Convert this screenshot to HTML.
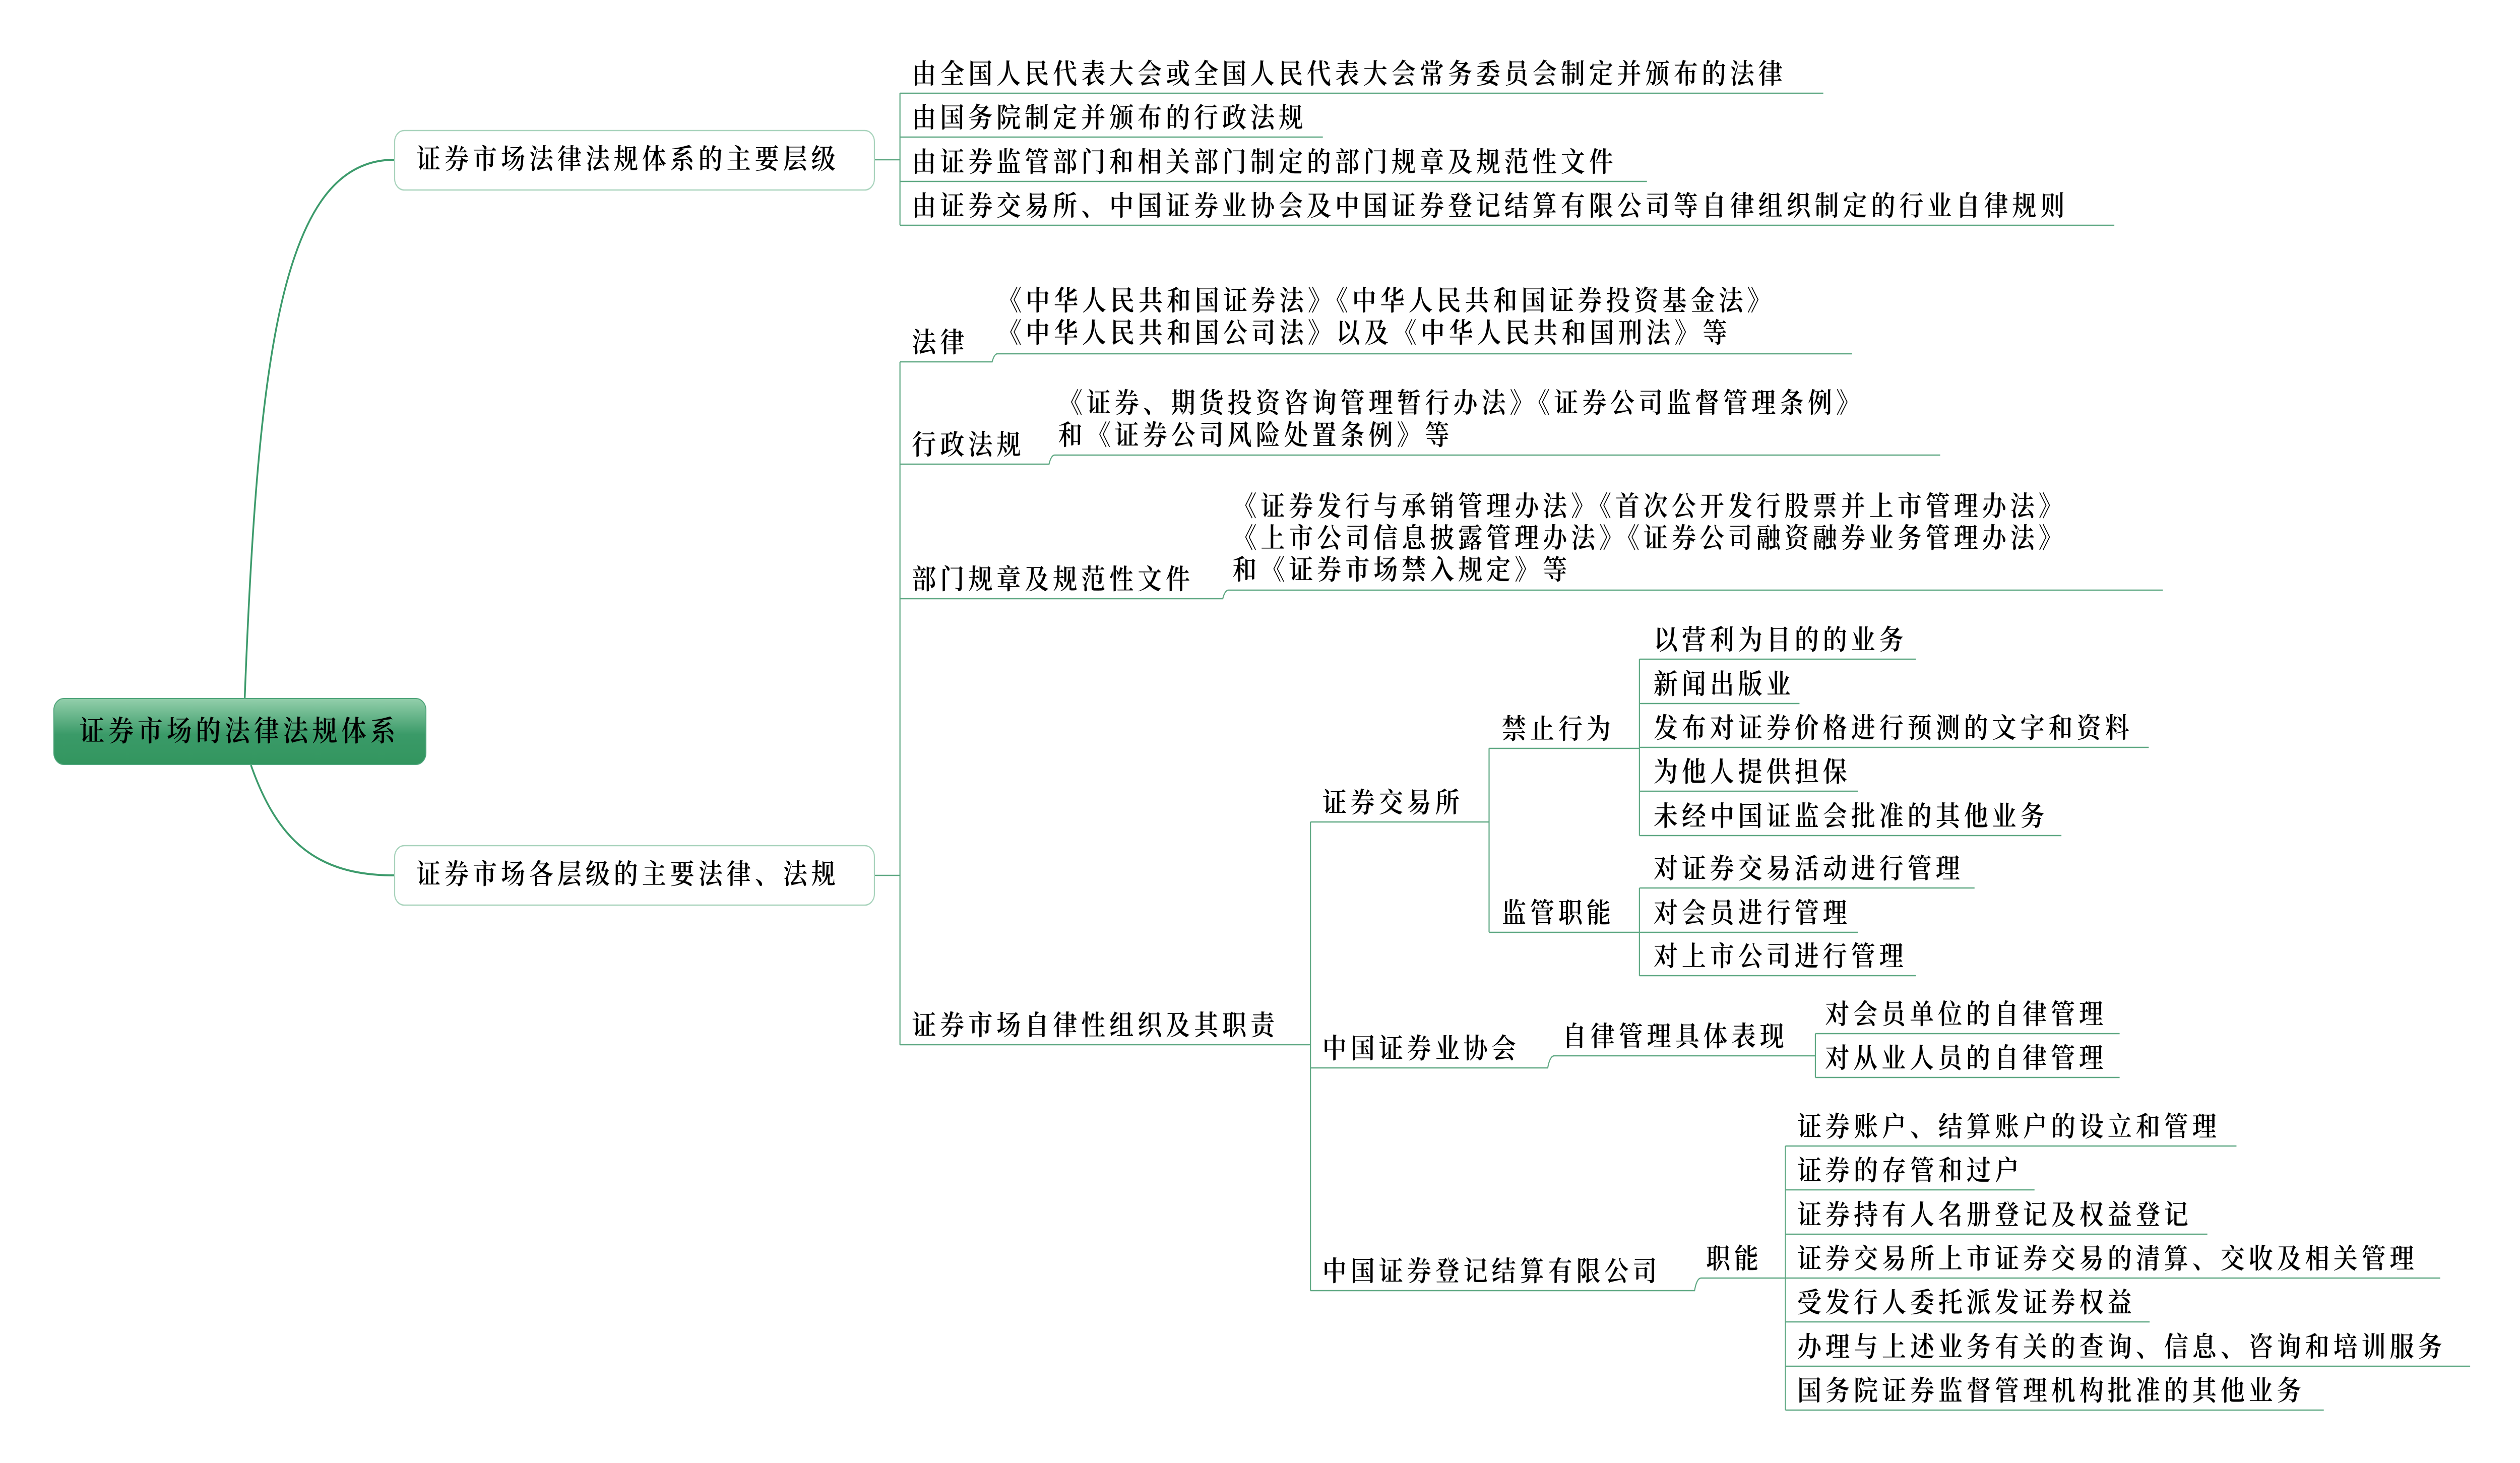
<!DOCTYPE html>
<html><head><meta charset="utf-8">
<style>
html,body{margin:0;padding:0;background:#fff;overflow:hidden;}
svg{display:block;width:100vw;height:100vh;}
text{font-family:"Liberation Serif","Noto Serif CJK SC",serif;font-size:55px;letter-spacing:9px;font-weight:600;fill:#000;dominant-baseline:central;}
</style></head><body>
<svg viewBox="0 0 5715 2903" preserveAspectRatio="none" xmlns="http://www.w3.org/2000/svg">
<defs><linearGradient id="g" x1="0" y1="0" x2="0" y2="1"><stop offset="0" stop-color="#93cfab"/><stop offset="0.55" stop-color="#3a9a68"/><stop offset="1" stop-color="#33965f"/></linearGradient></defs>
<rect width="5715" height="2903" fill="#fff"/>
<g fill="none" stroke="#3d9b6c" stroke-width="4">
<path d="M555,1385 C585,700 640,317 894,317"/>
<path d="M569,1518 C630,1670 720,1737 894,1737"/>
</g>
<g fill="none" stroke="#5fa883" stroke-width="2.5">
<path d="M1984,317 H2041"/>
<path d="M2041,185 V447"/>
<path d="M2041,185 H4135"/><path d="M2041,272 H3000"/><path d="M2041,360 H3735"/><path d="M2041,447 H4795"/>
<path d="M1984,1737 H2041"/>
<path d="M2041,718 V2073"/>
<path d="M2041,718 H2250 Q2255,702 2262,702 H4200"/>
<path d="M2041,921 H2379 Q2384,903 2392,903 H4400"/>
<path d="M2041,1188 H2773 Q2778,1171 2786,1171 H4905"/>
<path d="M2041,2073 H2972"/>
<path d="M2972,1631 V2561"/>
<path d="M2972,1631 H3377"/>
<path d="M3377,1485 V1850"/>
<path d="M3377,1485 H3718"/><path d="M3377,1850 H3718"/>
<path d="M3718,1308 V1658"/>
<path d="M3718,1308 H4345"/><path d="M3718,1396 H4081"/><path d="M3718,1483 H4873"/><path d="M3718,1570 H4214"/><path d="M3718,1658 H4675"/>
<path d="M3718,1762 V1936"/>
<path d="M3718,1762 H4478"/><path d="M3718,1850 H4214"/><path d="M3718,1936 H4345"/>
<path d="M2972,2119 H3510 Q3515,2095 3525,2095 H4117"/>
<path d="M4117,2051 V2138"/>
<path d="M4117,2051 H4807"/><path d="M4117,2138 H4807"/>
<path d="M2972,2561 H3843 Q3848,2536 3858,2536 H4049"/>
<path d="M4049,2274 V2798"/>
<path d="M4049,2274 H5072"/><path d="M4049,2361 H4614"/><path d="M4049,2449 H5006"/><path d="M4049,2536 H5534"/><path d="M4049,2623 H4875"/><path d="M4049,2711 H5602"/><path d="M4049,2798 H5270"/>
</g>
<rect x="122" y="1386" width="844" height="131" rx="23" fill="url(#g)" stroke="#4ea47a" stroke-width="2"/>
<rect x="895" y="259" width="1088" height="118" rx="22" fill="#fff" stroke="#a8d3bc" stroke-width="2.5"/>
<rect x="895" y="1678" width="1088" height="118" rx="22" fill="#fff" stroke="#a8d3bc" stroke-width="2.5"/>

<text x="180" y="1451" style="font-size:57px">证券市场的法律法规体系</text>
<text x="944" y="317">证券市场法律法规体系的主要层级</text>
<text x="944" y="1736">证券市场各层级的主要法律、法规</text>

<text x="2068" y="148">由全国人民代表大会或全国人民代表大会常务委员会制定并颁布的法律</text>
<text x="2068" y="235">由国务院制定并颁布的行政法规</text>
<text x="2068" y="323">由证券监管部门和相关部门制定的部门规章及规范性文件</text>
<text x="2068" y="410">由证券交易所、中国证券业协会及中国证券登记结算有限公司等自律组织制定的行业自律规则</text>

<text x="2068" y="681">法律</text>
<text x="2262" y="598">《中华人民共和国证券法》《中华人民共和国证券投资基金法》</text>
<text x="2262" y="662">《中华人民共和国公司法》以及《中华人民共和国刑法》等</text>

<text x="2068" y="884">行政法规</text>
<text x="2400" y="801">《证券、期货投资咨询管理暂行办法》《证券公司监督管理条例》</text>
<text x="2400" y="865">和《证券公司风险处置条例》等</text>

<text x="2068" y="1151">部门规章及规范性文件</text>
<text x="2795" y="1006">《证券发行与承销管理办法》《首次公开发行股票并上市管理办法》</text>
<text x="2795" y="1069">《上市公司信息披露管理办法》《证券公司融资融券业务管理办法》</text>
<text x="2795" y="1132">和《证券市场禁入规定》等</text>

<text x="2068" y="2036">证券市场自律性组织及其职责</text>
<text x="2999" y="1594">证券交易所</text>
<text x="3406" y="1448">禁止行为</text>
<text x="3406" y="1813">监管职能</text>
<text x="3750" y="1271">以营利为目的的业务</text>
<text x="3750" y="1359">新闻出版业</text>
<text x="3750" y="1446">发布对证券价格进行预测的文字和资料</text>
<text x="3750" y="1533">为他人提供担保</text>
<text x="3750" y="1621">未经中国证监会批准的其他业务</text>
<text x="3750" y="1725">对证券交易活动进行管理</text>
<text x="3750" y="1813">对会员进行管理</text>
<text x="3750" y="1899">对上市公司进行管理</text>

<text x="2999" y="2082">中国证券业协会</text>
<text x="3543" y="2058">自律管理具体表现</text>
<text x="4139" y="2014">对会员单位的自律管理</text>
<text x="4139" y="2101">对从业人员的自律管理</text>

<text x="2999" y="2524">中国证券登记结算有限公司</text>
<text x="3869" y="2499">职能</text>
<text x="4076" y="2237">证券账户、结算账户的设立和管理</text>
<text x="4076" y="2324">证券的存管和过户</text>
<text x="4076" y="2412">证券持有人名册登记及权益登记</text>
<text x="4076" y="2499">证券交易所上市证券交易的清算、交收及相关管理</text>
<text x="4076" y="2586">受发行人委托派发证券权益</text>
<text x="4076" y="2674">办理与上述业务有关的查询、信息、咨询和培训服务</text>
<text x="4076" y="2761">国务院证券监督管理机构批准的其他业务</text>
</svg>
</body></html>
